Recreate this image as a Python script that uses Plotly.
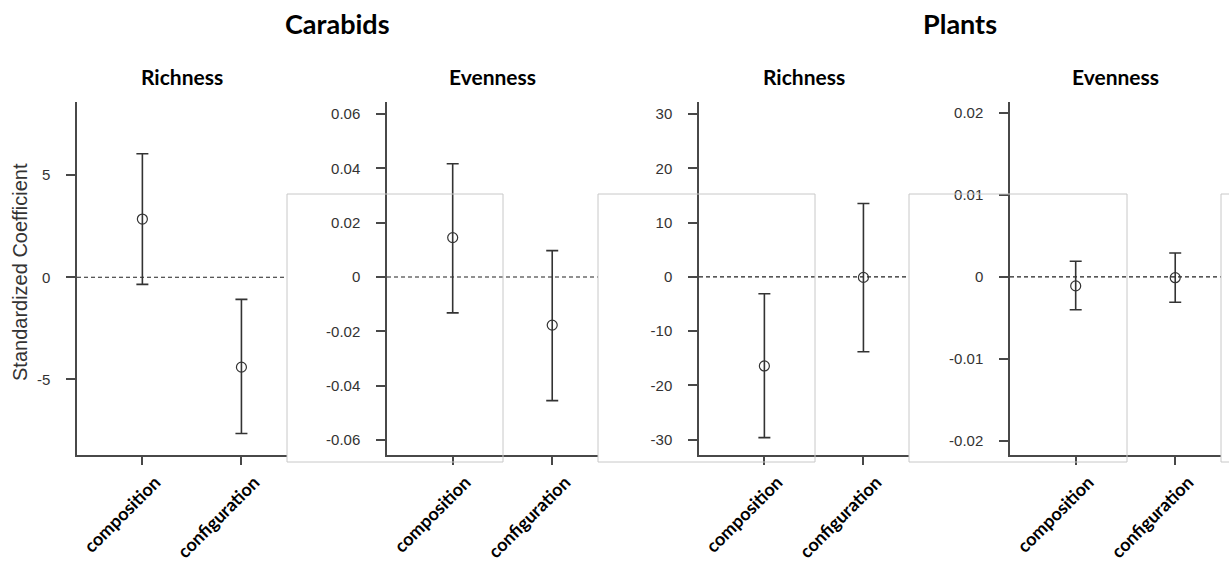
import plotly.graph_objects as go

W, H = 1229, 561

categories = ["composition", "configuration"]
cat_pos = [1, 2]

group_titles = ["Carabids", "Plants"]
panel_titles = ["Richness", "Evenness", "Richness", "Evenness"]

# Carabids richness
car_rich_est = [2.85, -4.4]
car_rich_lo = [-0.35, -7.65]
car_rich_hi = [6.05, -1.08]
# Carabids evenness
car_even_est = [0.0145, -0.0177]
car_even_lo = [-0.0132, -0.0455]
car_even_hi = [0.0417, 0.0097]
# Plants richness
pl_rich_est = [-16.4, -0.1]
pl_rich_lo = [-29.6, -13.8]
pl_rich_hi = [-3.1, 13.5]
# Plants evenness
pl_even_est = [-0.0011, -0.0001]
pl_even_lo = [-0.0040, -0.0031]
pl_even_hi = [0.0019, 0.0029]

# y tick values / labels per panel
yt1_vals = [-5, 0, 5]
yt1_text = ["-5", "0", "5"]
yt2_vals = [-0.06, -0.04, -0.02, 0, 0.02, 0.04, 0.06]
yt2_text = ["-0.06", "-0.04", "-0.02", "0", "0.02", "0.04", "0.06"]
yt3_vals = [-30, -20, -10, 0, 10, 20, 30]
yt3_text = ["-30", "-20", "-10", "0", "10", "20", "30"]
yt4_vals = [-0.02, -0.01, 0, 0.01, 0.02]
yt4_text = ["-0.02", "-0.01", "0", "0.01", "0.02"]

panels = [
    (car_rich_est, car_rich_lo, car_rich_hi, yt1_vals, yt1_text, [-8.7, 8.58]),
    (car_even_est, car_even_lo, car_even_hi, yt2_vals, yt2_text, [-0.0655, 0.0644]),
    (pl_rich_est, pl_rich_lo, pl_rich_hi, yt3_vals, yt3_text, [-32.8, 32.2]),
    (pl_even_est, pl_even_lo, pl_even_hi, yt4_vals, yt4_text, [-0.0217, 0.0213]),
]

# layout geometry (pixels)
x_px = [(77, 287), (387, 598), (699, 909), (1010, 1221)]
y_top, y_bot = 102, 455
boxes_px = [(287, 503), (598, 815), (909, 1127), (1221, 1240)]

def px_x(p):
    return p / W

def px_y(p):
    return 1 - p / H

AX = "#484848"
TITLE_FONT = "Lato, Open Sans, sans-serif"
NUM_FONT = "Liberation Sans, Arial, sans-serif"

fig = go.Figure()
layout = dict(
    width=W, height=H,
    margin=dict(l=0, r=0, t=0, b=0),
    paper_bgcolor="white", plot_bgcolor="rgba(0,0,0,0)",
    showlegend=False,
    shapes=[], annotations=[],
)

for i, (est, lo, hi, tv, tt, yr) in enumerate(panels):
    n = "" if i == 0 else str(i + 1)
    xa, ya = "x" + n, "y" + n
    plus = [h - e for h, e in zip(hi, est)]
    minus = [e - l for e, l in zip(est, lo)]
    fig.add_trace(go.Scatter(
        x=cat_pos, y=est, mode="markers", xaxis=xa, yaxis=ya,
        marker=dict(symbol="circle-open", size=10, color="#333333",
                    line=dict(width=1.2, color="#333333")),
        error_y=dict(type="data", array=plus, arrayminus=minus,
                     color="#333333", thickness=1.6, width=6),
    ))
    x0, x1 = x_px[i]
    layout["xaxis" + n] = dict(
        domain=[px_x(x0), px_x(x1)], anchor=ya, range=[0.34, 2.46],
        tickvals=cat_pos, ticktext=categories, tickangle=-45,
        showline=True, linecolor=AX, linewidth=1.5,
        ticks="outside", ticklen=8, tickcolor=AX, tickwidth=1.5,
        showgrid=False, zeroline=False, fixedrange=True,
        ticklabelshift=13,
        tickfont=dict(family=TITLE_FONT, size=18, color="black", weight="bold"),
    )
    layout["yaxis" + n] = dict(
        domain=[px_y(y_bot), px_y(y_top)], anchor=xa, range=yr,
        tickvals=tv, ticktext=tt,
        showline=True, linecolor=AX, linewidth=1.5,
        ticks="outside", ticklen=9, tickcolor=AX, tickwidth=1.5,
        showgrid=False, zeroline=False, fixedrange=True,
        ticklabelstandoff=13,
        tickfont=dict(family=NUM_FONT, size=15, color="#333333"),
    )
    layout["shapes"].append(dict(
        type="line", xref=xa + " domain", yref=ya, x0=0, x1=1, y0=0, y1=0,
        line=dict(color="#222222", width=1.2, dash="4px,3px"), layer="below",
    ))
    layout["annotations"].append(dict(
        text="<b>" + panel_titles[i] + "</b>", xref="paper", yref="paper",
        x=px_x((x0 + x1) / 2), y=px_y(77), xanchor="center", yanchor="middle",
        showarrow=False,
        font=dict(family=TITLE_FONT, size=21, color="black"),
    ))

for (b0, b1) in boxes_px:
    layout["shapes"].append(dict(
        type="rect", xref="paper", yref="paper",
        x0=px_x(b0), x1=px_x(b1), y0=px_y(462), y1=px_y(194),
        line=dict(color="#c8c8c8", width=1), fillcolor="rgba(0,0,0,0)", layer="above",
    ))

for k, gt in enumerate(group_titles):
    c0 = (x_px[2 * k][0] + x_px[2 * k][1]) / 2
    c1 = (x_px[2 * k + 1][0] + x_px[2 * k + 1][1]) / 2
    layout["annotations"].append(dict(
        text="<b>" + gt + "</b>", xref="paper", yref="paper",
        x=px_x((c0 + c1) / 2), y=px_y(23), xanchor="center", yanchor="middle",
        showarrow=False,
        font=dict(family=TITLE_FONT, size=27, color="black"),
    ))

layout["annotations"].append(dict(
    text="Standardized Coefficient", xref="paper", yref="paper",
    x=px_x(20), y=px_y(272), xanchor="center", yanchor="middle", textangle=-90,
    showarrow=False,
    font=dict(family=NUM_FONT, size=20, color="#333333"),
))

fig.update_layout(**layout)
fig.write_html("out.html", config={"displayModeBar": False},
               post_script="document.body.style.margin='0';")
